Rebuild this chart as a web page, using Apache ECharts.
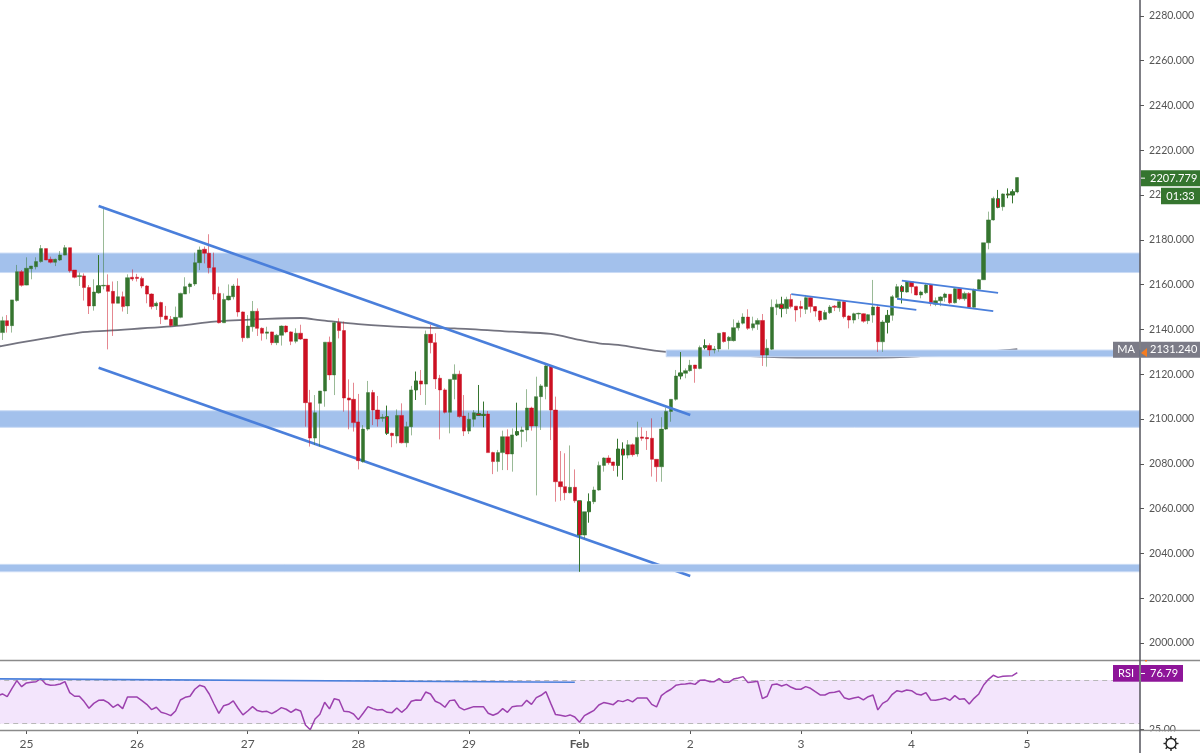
<!DOCTYPE html>
<html>
<head>
<meta charset="utf-8">
<style>html,body{margin:0;padding:0;background:#fff}#c{width:1200px;height:753px}</style>
<script src="https://cdn.jsdelivr.net/npm/echarts@6/dist/echarts.min.js"></script>
</head>
<body>
<div id="c"></div>
<script>
const opens = [2136.0,
2138.6,2143.9,2141.7,2152.9,2165.8,2159.8,2167.1,2168.0,2170.3,2176.1,
2171.3,2170.0,2171.0,2173.2,2176.5,2166.5,2163.6,2163.9,2158.7,2150.5,
2156.4,2159.4,2159.7,2157.0,2151.7,2154.6,2150.5,2163.3,2163.3,2162.8,
2159.4,2155.8,2150.5,2152.0,2146.0,2144.5,2141.8,2145.4,2155.8,2159.1,
2160.3,2169.8,2175.8,2174.0,2167.6,2156.1,2143.0,2153.2,2154.6,2159.4,
2147.8,2136.3,2141.2,2148.1,2140.5,2138.3,2138.9,2134.1,2137.4,2141.5,
2138.9,2134.7,2138.3,2135.7,2107.3,2091.5,2107.0,2112.5,2134.3,2119.7,
2143.0,2139.5,2109.4,2108.8,2098.7,2081.0,2095.5,2111.8,2104.0,2100.3,
2101.1,2093.6,2092.4,2101.6,2089.4,2096.6,2113.0,2117.0,2115.6,2137.8,
2134.1,2118.2,2113.0,2103.0,2117.7,2120.0,2101.3,2094.6,2099.9,2102.5,
2101.6,2102.2,2085.0,2081.0,2085.0,2092.1,2084.4,2092.9,2094.4,2095.1,
2104.9,2096.9,2110.0,2114.5,2123.7,2104.0,2072.0,2069.8,2067.1,2069.5,
2063.5,2048.2,2058.6,2063.1,2068.3,2079.3,2082.6,2080.8,2079.3,2086.6,
2083.9,2088.5,2084.4,2092.0,2091.7,2091.4,2082.0,2078.7,2095.5,2103.4,
2108.8,2119.2,2120.4,2121.6,2124.1,2122.6,2131.9,2132.8,2130.8,2131.3,
2138.6,2135.0,2135.0,2140.7,2142.8,2145.5,2140.7,2142.3,2144.0,2128.6,
2131.2,2149.9,2151.3,2149.3,2153.4,2150.4,2150.2,2149.0,2154.2,2150.2,
2148.2,2144.5,2147.5,2150.4,2149.7,2152.4,2146.0,2144.2,2146.9,2147.0,
2143.9,2146.4,2150.0,2134.5,2143.2,2146.3,2154.3,2159.1,2156.7,2161.3,
2159.1,2155.4,2156.4,2159.8,2151.3,2152.8,2154.3,2155.7,2151.9,2158.2,
2153.7,2156.1,2149.9,2157.9,2162.2,2178.7,2188.9,2198.4,2194.8,2200.5,2200.0,2201.4];
const closes = [2138.6,
2143.9,2141.7,2153.2,2165.8,2159.7,2167.3,2168.3,2170.3,2176.1,2171.0,
2170.0,2171.3,2173.2,2176.5,2166.2,2163.3,2164.0,2158.7,2150.5,2156.7,
2159.5,2159.7,2157.0,2151.7,2154.6,2150.2,2163.1,2162.5,2162.8,2159.4,
2155.8,2150.2,2151.7,2145.7,2144.5,2141.8,2145.4,2156.1,2159.1,2160.3,
2169.8,2175.5,2174.0,2167.6,2155.8,2143.0,2153.4,2154.9,2159.4,2147.8,
2136.3,2141.5,2148.1,2140.5,2138.3,2138.9,2134.1,2137.4,2141.5,2138.9,
2134.7,2138.3,2135.7,2107.3,2091.5,2102.8,2112.5,2134.3,2119.7,2143.0,
2139.5,2109.4,2108.5,2098.4,2081.4,2095.5,2111.8,2104.0,2100.0,2100.8,
2093.6,2092.6,2101.6,2089.4,2096.6,2113.0,2117.0,2115.6,2137.8,2134.1,
2117.9,2113.0,2103.0,2117.7,2120.0,2101.1,2094.6,2099.9,2102.8,2101.6,
2102.1,2085.0,2081.0,2085.0,2092.1,2084.4,2092.9,2094.4,2095.1,2104.9,
2096.9,2110.0,2114.8,2123.7,2104.0,2072.0,2069.8,2067.1,2069.5,2063.5,
2048.2,2058.6,2063.1,2068.3,2079.3,2082.6,2080.5,2079.3,2086.6,2083.9,
2088.5,2084.1,2091.8,2091.4,2091.2,2082.0,2078.7,2095.5,2103.4,2108.8,
2119.2,2120.6,2121.6,2124.0,2122.6,2131.9,2132.8,2130.8,2131.3,2138.3,
2134.6,2136.5,2140.8,2142.9,2145.5,2140.5,2142.5,2144.0,2128.6,2131.6,
2149.9,2151.3,2149.3,2153.4,2150.2,2148.7,2149.4,2154.2,2150.2,2148.2,
2144.2,2147.6,2150.0,2149.9,2152.4,2145.7,2144.2,2147.0,2147.2,2143.7,
2146.6,2150.0,2134.5,2143.3,2146.3,2154.6,2159.1,2156.9,2161.3,2159.1,
2155.4,2156.7,2159.8,2151.6,2152.8,2154.5,2155.8,2151.9,2158.2,2153.7,
2156.1,2149.9,2157.9,2162.2,2178.7,2188.9,2198.5,2194.5,2200.5,2200.0,2201.5,2207.8];
const lows = [2134.0,
2135.3,2138.6,2138.6,2152.4,2159.1,2159.7,2162.4,2166.8,2169.8,2171.0,
2169.5,2168.3,2170.6,2173.1,2165.4,2162.8,2159.4,2152.9,2146.9,2148.4,
2156.1,2157.9,2131.1,2137.1,2151.7,2148.0,2146.9,2161.6,2161.4,2158.4,
2151.7,2149.0,2148.7,2142.4,2144.2,2141.2,2141.5,2145.0,2155.8,2156.1,
2159.4,2166.5,2169.5,2165.0,2153.2,2142.7,2143.0,2152.9,2153.4,2145.7,
2134.5,2136.0,2139.0,2137.1,2135.0,2135.6,2133.0,2133.0,2132.8,2138.3,
2133.0,2133.8,2135.3,2096.6,2087.7,2088.4,2087.7,2105.5,2117.4,2110.7,
2136.0,2103.3,2095.4,2094.4,2077.5,2080.5,2094.8,2097.3,2096.6,2098.8,
2092.9,2087.4,2089.1,2089.1,2087.4,2092.7,2108.5,2110.7,2106.3,2129.3,
2113.4,2090.9,2102.5,2093.6,2108.8,2100.6,2092.4,2093.3,2096.6,2101.6,
2096.3,2085.0,2075.4,2076.5,2077.2,2077.2,2076.5,2092.4,2087.4,2089.9,
2094.8,2065.9,2095.1,2108.8,2090.6,2063.1,2063.5,2063.8,2066.8,2062.6,
2031.8,2046.7,2053.7,2062.0,2068.0,2076.5,2079.6,2076.8,2074.3,2072.8,
2082.4,2083.2,2083.2,2090.3,2086.2,2074.3,2072.0,2072.0,2095.1,2098.8,
2108.2,2117.7,2118.2,2121.1,2116.2,2122.2,2131.1,2128.2,2129.3,2130.1,
2134.1,2131.1,2134.6,2139.5,2142.2,2139.8,2139.5,2139.8,2123.7,2123.4,
2130.8,2146.4,2145.4,2146.9,2149.4,2143.5,2145.4,2146.9,2147.5,2145.7,
2143.3,2144.2,2146.9,2148.2,2147.9,2144.9,2140.5,2142.7,2144.6,2143.0,
2142.4,2143.0,2130.0,2130.0,2138.2,2143.9,2154.0,2151.6,2156.4,2156.1,
2155.2,2153.9,2155.8,2150.4,2150.4,2150.4,2152.4,2151.3,2151.6,2153.1,
2152.8,2149.6,2149.3,2157.3,2162.1,2175.8,2188.6,2194.1,2193.0,2198.6,2196.3,2200.8];
const highs = [2141.0,
2145.7,2146.4,2153.2,2168.8,2166.5,2172.2,2168.3,2172.2,2177.7,2176.1,
2172.5,2171.6,2175.0,2177.7,2176.5,2166.5,2165.4,2165.0,2159.8,2162.4,
2173.2,2194.8,2164.6,2161.4,2161.6,2156.9,2164.6,2166.8,2164.8,2163.6,
2159.8,2156.1,2152.4,2152.4,2150.5,2146.0,2150.2,2156.4,2163.3,2160.9,
2174.3,2177.0,2177.0,2182.5,2174.3,2159.1,2156.1,2160.1,2160.3,2162.8,
2148.0,2146.4,2152.7,2149.4,2140.9,2141.2,2139.0,2138.0,2141.8,2141.8,
2139.2,2140.5,2142.1,2135.7,2113.0,2110.7,2112.5,2134.3,2136.8,2143.5,
2145.0,2143.5,2117.7,2116.2,2111.2,2097.3,2117.0,2113.0,2110.3,2102.2,
2106.0,2093.9,2104.3,2107.0,2098.8,2114.8,2121.2,2121.9,2139.5,2142.0,
2138.3,2119.7,2113.7,2117.7,2124.4,2121.6,2110.7,2102.8,2104.0,2115.2,
2107.8,2103.6,2085.4,2086.2,2094.8,2095.4,2095.8,2107.3,2096.6,2113.3,
2105.5,2118.9,2115.6,2124.9,2123.7,2110.0,2085.7,2084.7,2088.2,2077.5,
2063.5,2058.6,2066.8,2069.8,2081.0,2082.9,2083.8,2080.9,2091.2,2089.6,
2090.6,2089.1,2098.8,2096.3,2094.7,2100.3,2082.0,2100.8,2105.1,2108.8,
2121.9,2129.9,2122.6,2126.4,2124.1,2132.8,2135.6,2133.8,2132.6,2138.3,
2138.9,2137.1,2144.5,2144.0,2147.2,2149.0,2145.7,2145.0,2146.9,2135.6,
2153.4,2153.4,2154.6,2154.6,2155.8,2150.4,2152.8,2155.4,2154.9,2150.4,
2148.4,2148.7,2150.9,2150.9,2152.8,2152.7,2146.3,2147.5,2147.5,2147.2,
2146.9,2162.1,2151.2,2144.2,2148.7,2155.4,2160.3,2159.8,2161.6,2161.3,
2159.5,2157.3,2160.3,2160.3,2154.3,2154.9,2156.4,2155.8,2158.8,2158.5,
2156.9,2156.6,2158.2,2162.5,2178.7,2192.6,2199.3,2202.3,2200.8,2203.0,2202.6,2208.0];
const rsi = [55.5,
57.2,54.7,62.4,69.4,63.9,67.3,67.9,68.5,71.2,66.3,
65.1,65.4,66.3,68.5,58.4,55.1,55.1,50.2,44.1,48.6,
51.4,51.7,49.3,45.0,47.7,43.8,54.4,54.4,54.4,51.1,
47.7,42.9,45.0,40.4,39.2,37.4,41.6,51.7,54.1,55.1,
61.5,65.1,63.9,57.2,48.0,39.5,46.5,47.7,50.8,44.1,
38.0,41.6,45.6,42.0,41.0,41.3,39.2,41.6,44.7,43.2,
40.4,43.2,41.6,28.8,24.4,34.3,38.6,49.6,43.5,52.9,
51.7,41.3,41.0,38.9,33.7,39.5,45.6,43.8,42.6,42.9,
40.4,40.1,44.4,40.4,44.1,50.5,51.7,51.4,59.0,57.2,
50.5,48.6,45.0,51.1,51.7,45.0,42.6,44.1,45.6,45.6,
45.6,39.5,37.7,39.5,43.8,40.4,45.6,46.2,46.5,51.4,
47.7,53.8,56.0,59.3,48.6,38.3,37.7,36.7,38.0,36.1,
31.3,37.4,39.8,42.2,47.1,49.3,48.4,47.4,51.1,50.2,
52.0,49.9,53.5,53.5,53.5,47.7,45.3,55.7,59.0,61.5,
65.1,66.0,66.3,67.0,66.0,69.7,70.0,68.5,68.5,71.2,
67.9,67.9,70.9,71.8,73.1,67.6,68.2,68.8,52.9,55.1,
65.7,66.3,64.5,66.0,63.3,61.5,61.5,63.9,62.4,59.3,
56.3,56.3,58.4,58.7,59.9,53.8,52.3,53.5,54.4,51.7,
54.7,56.3,42.6,48.6,51.1,56.9,60.2,59.3,60.9,60.2,
57.2,56.3,58.4,51.7,51.4,52.3,53.5,51.4,55.7,52.3,
52.9,48.0,53.2,57.2,65.4,70.6,74.3,72.4,73.4,73.7,74.0,76.8];
const maIndex = [0,1,17,23,38,45,56,63,67,75,85,95,107,115,121,125,129,139,160,174,189,203,212];
const maValue = [2132.3,2132.7,2138.6,2139.5,2141.7,2143.5,2144.7,2145.1,2144.2,2142.4,2141.0,2140.5,2139.0,2138.0,2135.3,2133.8,2133.1,2130.0,2127.8,2127.4,2127.8,2129.6,2131.2];
const darkWicks = [21,81,87,100,101,108,121,123,129,130,142,147,163,185,188,208,210,211];
const dayIndex = [6,29,52,75,98,121,144,167,190,214];
const dayNames = ['25','26','27','28','29','Feb','2','3','4','5'];
const categoryCount = 238;
const priceTicks = [2000,2020,2040,2060,2080,2100,2120,2140,2160,2180,2200,2220,2240,2260,2280];
const rsiTicks = [25];
const priceMin = 1992.4, priceMax = 2287.1, rsiMin = 24.2, rsiMax = 87.4;
const rsiLevels = [70,30];
const bandsUpper = [[2165.4,2174.1],[2096.3,2103.7]];
const bandLowest = [2031.8,2035.1];
const bandPartial = {from:139, low:2127.8, high:2130.8};
const channelUpper = [[21,2195.1],[144,2101.8]];
const channelLower = [[21,2122.9],[144,2029.9]];
const flagLines = [[[165,2155.8],[191,2148.7]],[[188,2161.8],[208,2156.3]],[[187,2153.7],[207,2148.2]]];
const rsiTrend = [[0,71.0],[120,67.9]];
const lastPrice = 2207.779, countdown = '01:33', maLast = 2131.24, rsiLast = 76.79;

const FONT = 'Lato, "Noto Sans", sans-serif';
const GREEN='#35752f', RED='#cc1022', GREEN_W='rgba(53,117,47,.5)', RED_W='rgba(204,16,34,.5)';
const BAND={color:'#a3c1ec',borderColor:'#cadbf5',borderWidth:1};
const cats = Array.from({length:categoryCount},(_,i)=>String(i));
const lineStyleOf = w => ({color:'#4a7fdb',width:w,type:'solid',opacity:1});
const lineData = pair => [{coord:pair[0]},{coord:pair[1]}];

const candles = opens.map((o,i)=>{
  const v=[o,closes[i],lows[i],highs[i]];
  if(!darkWicks.includes(i)) return v;
  return {value:v,itemStyle:{borderColor:GREEN,borderColor0:RED}};
});
const isDay = idx => dayIndex.includes(idx);

const chart = echarts.init(document.getElementById('c'),null,{renderer:'canvas'});
const yAxisBase = {type:'value',position:'right',splitLine:{show:false},axisLine:{show:false}};
const slot = 4.81;
const gridLeft = -slot, gridWidth = slot*categoryCount;
chart.setOption({
  animation:false,
  backgroundColor:'#fff',
  grid:[{left:gridLeft,top:0,width:gridWidth,height:660,outerBoundsMode:'none'},{left:gridLeft,top:661,width:gridWidth,height:69,outerBoundsMode:'none'}],
  xAxis:[
    {type:'category',gridIndex:0,data:cats,show:false},
    {type:'category',gridIndex:1,data:cats,
      axisLine:{show:false},
      axisTick:{show:true,length:4,alignWithLabel:true,interval:isDay,lineStyle:{color:'#555'}},
      axisLabel:{show:true,interval:isDay,margin:8,color:'#555',fontFamily:FONT,fontSize:12,
        formatter:(v,idx)=>{const n=dayNames[dayIndex.indexOf(idx)]; return n==='Feb'?'{b|Feb}':n;},
        rich:{b:{fontWeight:'bold',color:'#555',fontFamily:FONT,fontSize:12}}}}
  ],
  yAxis:[
    Object.assign({},yAxisBase,{gridIndex:0,min:priceMin,max:priceMax,
      axisTick:{show:true,length:4,customValues:priceTicks,lineStyle:{color:'#555'}},
      axisLabel:{customValues:priceTicks,margin:9,color:'#555',fontFamily:FONT,fontSize:10.5,formatter:v=>v.toFixed(3)}}),
    Object.assign({},yAxisBase,{gridIndex:1,min:rsiMin,max:rsiMax,
      axisTick:{show:true,length:4,customValues:rsiTicks,lineStyle:{color:'#555'}},
      axisLabel:{customValues:rsiTicks,margin:9,color:'#555',fontFamily:FONT,fontSize:10.5,formatter:v=>v.toFixed(2)}})
  ],
  series:[
    {type:'line',name:'MA',xAxisIndex:0,yAxisIndex:0,z:1,silent:true,symbol:'none',smooth:0.3,
      lineStyle:{color:'#73737f',width:1.8},
      data:maIndex.map((x,i)=>[x,maValue[i]]),
      markArea:{z:2,silent:true,itemStyle:BAND,
        data:bandsUpper.map(b=>[{yAxis:b[0]},{yAxis:b[1]}]).concat([[{xAxis:bandPartial.from,yAxis:bandPartial.low},{yAxis:bandPartial.high}]])},
      markLine:{z:3,silent:true,symbol:'none',label:{show:false},lineStyle:lineStyleOf(2.6),data:[lineData(channelLower)]}
    },
    {type:'line',name:'Lowest band',xAxisIndex:0,yAxisIndex:0,z:3,silent:true,symbol:'none',data:[],
      markArea:{z:3.5,silent:true,itemStyle:BAND,data:[[{yAxis:bandLowest[0]},{yAxis:bandLowest[1]}]]}},
    {type:'candlestick',name:'Price',xAxisIndex:0,yAxisIndex:0,z:4,silent:true,barWidth:3.8,
      itemStyle:{color:GREEN,color0:RED,borderColor:GREEN_W,borderColor0:RED_W,borderWidth:1},
      data:candles},
    {type:'line',name:'Trendlines',xAxisIndex:0,yAxisIndex:0,z:5,silent:true,symbol:'none',data:[],
      markLine:{z:5,silent:true,symbol:'none',label:{show:false},lineStyle:lineStyleOf(2.6),
        data:[lineData(channelUpper)]}},
    {type:'line',name:'Flags',xAxisIndex:0,yAxisIndex:0,z:5,silent:true,symbol:'none',data:[],
      markLine:{z:5,silent:true,symbol:'none',label:{show:false},lineStyle:lineStyleOf(1.8),
        data:flagLines.map(lineData)}},
    {type:'line',name:'RSI',xAxisIndex:1,yAxisIndex:1,z:3,silent:true,symbol:'none',
      lineStyle:{color:'#9c41ae',width:1.5},data:rsi,
      markArea:{z:1,silent:true,itemStyle:{color:'#f3e5fc'},data:[[{yAxis:rsiLevels[0]},{yAxis:rsiLevels[1]}]]},
      markLine:{z:2,silent:true,symbol:'none',label:{show:false},
        lineStyle:{color:'#b8b8b8',type:[5,4],width:1},
        data:rsiLevels.map(v=>({yAxis:v}))}},
    {type:'line',name:'RSI trend',xAxisIndex:1,yAxisIndex:1,z:4,silent:true,symbol:'none',data:[],
      markLine:{z:4,silent:true,symbol:'none',label:{show:false},lineStyle:lineStyleOf(1.6),data:[lineData(rsiTrend)]}}
  ]
});

const yP = v => chart.convertToPixel({yAxisIndex:0},v);
const yR = v => chart.convertToPixel({yAxisIndex:1},v);
const tagFont = '11px '+FONT;
const box=(x,y,w,h,fill)=>({type:'rect',z:50,silent:true,shape:{x,y,width:w,height:h},style:{fill}});
const txt=(x,y,t,align)=>({type:'text',z:51,silent:true,x,y,style:{text:t,fill:'#fff',font:tagFont,textAlign:align||'left',textVerticalAlign:'middle'}});
const seg=(x1,y1,x2,y2,color,w,z)=>({type:'line',z:z||40,silent:true,shape:{x1,y1,x2,y2},style:{stroke:color,lineWidth:w}});
const yLast=yP(lastPrice), yMa=yP(maLast), yRsi=yR(rsiLast)+0.7;
const gearSpikes=[];
for(let k=0;k<8;k++){const a=k*Math.PI/4; gearSpikes.push(seg(1171+5*Math.cos(a),743.5+5*Math.sin(a),1171+7.5*Math.cos(a),743.5+7.5*Math.sin(a),'#222',1.4,62));}
chart.setOption({graphic:[
  seg(0,660.5,1200,660.5,'#8a8a8a',1.6),
  seg(0,730.5,1200,730.5,'#8a8a8a',1.6),
  box(1141,731.5,59,21.5,'#fff'),
  {type:'circle',z:62,silent:true,shape:{cx:1171,cy:743.5,r:5},style:{fill:'#fff',stroke:'#222',lineWidth:1.4}},
  ...gearSpikes,
  box(1141,yLast-7.5,59,16,GREEN),
  txt(1150,yLast+0.5,lastPrice.toFixed(3)),
  seg(1141,yLast+0.5,1145,yLast+0.5,'#fff',1,52),
  box(1161,yLast+10,39,16.5,GREEN),
  txt(1180.5,yLast+18.5,countdown,'center'),
  box(1113,yMa-7.3,26,16,'#7b7b87'),
  txt(1126,yMa+0.7,'MA','center'),
  box(1141,yMa-7.3,59,16,'#7b7b87'),
  txt(1150,yMa+0.7,maLast.toFixed(3)),
  {type:'polygon',z:52,silent:true,shape:{points:[[1147,yMa-1],[1147,yMa+8],[1141,yMa+4]]},style:{fill:'#f57c20'}},
  box(1145,660,2,1.5,'#f57c20'),
  box(1113,yRsi-8.3,26,16.7,'#8e1599'),
  txt(1126,yRsi+0.2,'RSI','center'),
  box(1141,yRsi-8.3,42,16.7,'#8e1599'),
  seg(1141,yRsi+0.2,1145,yRsi+0.2,'#fff',1,52),
  txt(1150,yRsi+0.2,rsiLast.toFixed(2)),
  seg(1140,0,1140,753,'#55555d',1.5,60)
]});
</script>
</body>
</html>
